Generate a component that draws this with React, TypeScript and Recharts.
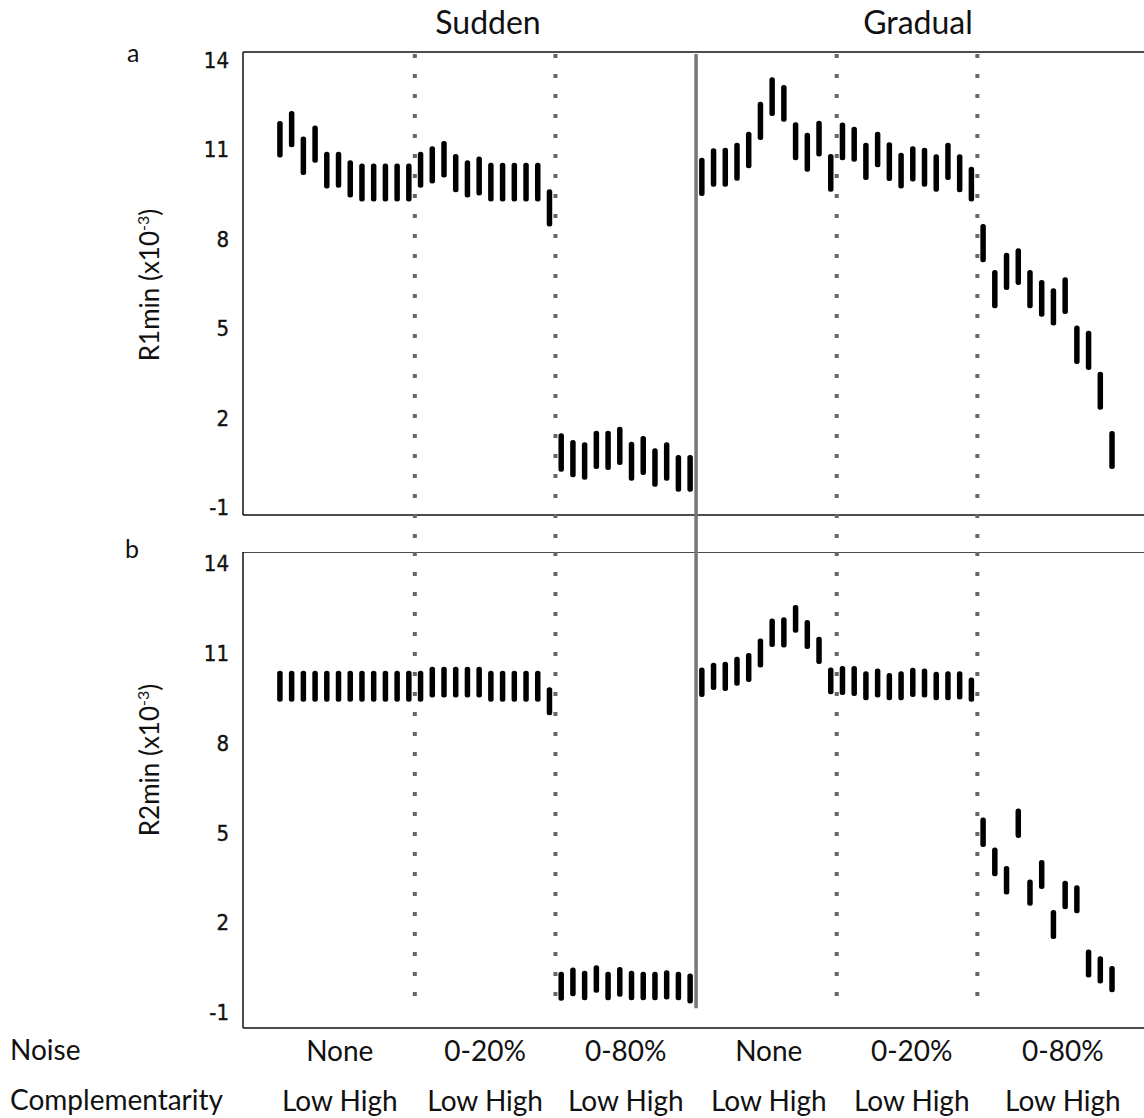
import React from 'react';
import { ComposedChart, Bar, XAxis, YAxis, ReferenceLine } from 'recharts';

// group / axis labels
const regimeTitles = ['Sudden', 'Gradual'];
const noiseLabels = ['None', '0-20%', '0-80%', 'None', '0-20%', '0-80%'];
const complementarityLabel = 'Low High';
const yTicks = [-1, 2, 5, 8, 11, 14];
// x positions (bar index units) of the bottom labels
const labelAt = [5.1, 17.5, 29.5, 41.7, 53.9, 66.8];
// separators between noise groups, and between sudden / gradual
const dottedAt = [11.5, 23.5, 47.5, 59.5];
const regimeSplit = 35.5;

// panel a: R1min range (x10^-3), 72 runs
const r1Low = [
  10.73, 11.07, 10.14, 10.55, 9.69, 9.71, 9.39, 9.25, 9.25, 9.25, 9.25, 9.25,
  9.71, 9.86, 10.06, 9.56, 9.39, 9.45, 9.25, 9.25, 9.25, 9.25, 9.25, 8.41,
  0.18, 0.0, -0.09, 0.27, 0.24, 0.41, -0.12, 0.07, -0.32, -0.12, -0.49, -0.49,
  9.44, 9.75, 9.75, 9.95, 10.37, 11.32, 12.12, 11.93, 10.64, 10.25, 10.76, 9.58,
  10.64, 10.59, 9.97, 10.4, 9.94, 9.69, 9.92, 9.75, 9.58, 9.97, 9.56, 9.25,
  7.21, 5.67, 6.28, 6.45, 5.67, 5.38, 5.09, 5.48, 3.8, 3.6, 2.26, 0.27,
];
const r1High = [
  11.95, 12.29, 11.43, 11.8, 10.92, 10.92, 10.64, 10.53, 10.53, 10.53, 10.53, 10.53,
  10.92, 11.11, 11.28, 10.85, 10.64, 10.76, 10.55, 10.55, 10.55, 10.55, 10.55, 9.66,
  1.47, 1.25, 1.17, 1.56, 1.56, 1.69, 1.19, 1.38, 0.97, 1.17, 0.74, 0.74,
  10.72, 11.04, 11.06, 11.22, 11.59, 12.6, 13.42, 13.16, 11.91, 11.56, 11.96, 10.85,
  11.9, 11.76, 11.22, 11.59, 11.24, 10.89, 11.11, 11.06, 10.84, 11.22, 10.84, 10.42,
  8.5, 6.95, 7.53, 7.68, 6.95, 6.62, 6.34, 6.71, 5.09, 4.91, 3.54, 1.55,
];

// panel b: R2min range (x10^-3)
const r2Low = [
  9.37, 9.37, 9.37, 9.37, 9.37, 9.37, 9.37, 9.37, 9.37, 9.37, 9.37, 9.37,
  9.37, 9.51, 9.51, 9.51, 9.51, 9.51, 9.37, 9.37, 9.37, 9.37, 9.37, 8.92,
  -0.62, -0.47, -0.6, -0.35, -0.6, -0.49, -0.6, -0.6, -0.6, -0.58, -0.6, -0.71,
  9.53, 9.76, 9.73, 9.9, 10.03, 10.51, 11.2, 11.18, 11.67, 11.13, 10.63, 9.62,
  9.59, 9.56, 9.42, 9.51, 9.42, 9.42, 9.53, 9.51, 9.42, 9.42, 9.44, 9.37,
  4.52, 3.54, 2.93, 4.82, 2.55, 3.11, 1.44, 2.44, 2.3, 0.16, -0.04, -0.34,
];
const r2High = [
  10.4, 10.4, 10.4, 10.4, 10.4, 10.4, 10.4, 10.4, 10.4, 10.4, 10.4, 10.4,
  10.4, 10.54, 10.54, 10.54, 10.54, 10.54, 10.4, 10.4, 10.4, 10.4, 10.4, 9.85,
  0.35, 0.49, 0.38, 0.57, 0.35, 0.51, 0.38, 0.35, 0.35, 0.4, 0.35, 0.29,
  10.51, 10.67, 10.7, 10.87, 11.0, 11.48, 12.15, 12.19, 12.6, 12.1, 11.54, 10.51,
  10.56, 10.56, 10.39, 10.48, 10.33, 10.39, 10.5, 10.48, 10.37, 10.39, 10.39, 10.18,
  5.5, 4.5, 3.88, 5.8, 3.43, 4.08, 2.41, 3.39, 3.24, 1.09, 0.87, 0.54,
];

const toRows = (low: number[], high: number[]) =>
  low.map((v, i) => ({ i, range: [v, high[i]] }));

const dataA = toRows(r1Low, r1High);
const dataB = toRows(r2Low, r2High);

const X_DOMAIN: [number, number] = [-3.16, 73.89];
const DOMAIN_A: [number, number] = [-1.27, 14.27];
const DOMAIN_B: [number, number] = [-1.53, 14.37];
const SANS = 'Lato, "Open Sans", sans-serif';
const DOT = { stroke: '#666', strokeWidth: 4, strokeDasharray: '4 16' };
const BORDER = { stroke: '#111', strokeWidth: 1.5 };

const BottomTick = ({ x, y, index }: any) => (
  <g>
    <text x={x} y={y + 31} textAnchor="middle" fontFamily={SANS} fontSize={28} fill="#111">
      {noiseLabels[index]}
    </text>
    <text x={x} y={y + 81} textAnchor="middle" fontFamily={SANS} fontSize={28} fill="#111">
      {complementarityLabel}
    </text>
  </g>
);

const YTick = ({ x, y, payload }: any) => (
  <text
    x={x}
    y={y}
    dy={8}
    textAnchor="end"
    fontFamily='"DejaVu Sans Condensed", "DejaVu Sans", sans-serif'
    fontSize={22}
    fill="#111"
    stroke="#111"
    strokeWidth={0.35}
  >
    {payload.value}
  </text>
);

const yAxisProps = {
  width: 60,
  ticks: yTicks,
  tickLine: false,
  tickSize: 0,
  tickMargin: 14,
  axisLine: BORDER,
  tick: <YTick />,
  interval: 0 as const,
  allowDataOverflow: true,
};

const Separators = ({ top, bottom, splitBottom }: { top: number; bottom: number; splitBottom: number }) => (
  <>
    {dottedAt.map((x) => (
      <ReferenceLine
        key={x}
        segment={[{ x, y: top }, { x, y: bottom }]}
        ifOverflow="visible"
        {...DOT}
      />
    ))}
    <ReferenceLine
      segment={[{ x: regimeSplit, y: top }, { x: regimeSplit, y: splitBottom }]}
      ifOverflow="visible"
      stroke="#777"
      strokeWidth={3.5}
    />
  </>
);

const YTitle = ({ top, name }: { top: number; name: string }) => (
  <div
    style={{
      position: 'absolute',
      left: 149,
      top,
      transform: 'translate(-50%, -50%) rotate(-90deg)',
      whiteSpace: 'nowrap',
      fontFamily: SANS,
      fontSize: 26,
      color: '#111',
    }}
  >
    {name} (x10<sup style={{ fontSize: 16 }}>-3</sup>)
  </div>
);

export default function App() {
  return (
    <div
      style={{
        position: 'absolute',
        left: 0,
        top: 0,
        width: 1144,
        height: 1118,
        overflow: 'hidden',
        background: '#fff',
      }}
    >
      {regimeTitles.map((t, k) => (
        <div
          key={t}
          style={{
            position: 'absolute',
            left: k === 0 ? 488 : 918,
            top: 21,
            transform: 'translate(-50%, -50%)',
            fontFamily: SANS,
            fontSize: 32,
            color: '#111',
          }}
        >
          {t}
        </div>
      ))}
      <div style={{ position: 'absolute', left: 127, top: 37, fontFamily: SANS, fontSize: 25, color: '#111' }}>a</div>
      <div style={{ position: 'absolute', left: 125, top: 533, fontFamily: SANS, fontSize: 25, color: '#111' }}>b</div>
      <YTitle top={285} name="R1min" />
      <YTitle top={760} name="R2min" />
      <div style={{ position: 'absolute', left: 10, top: 1032, fontFamily: SANS, fontSize: 28, color: '#111' }}>Noise</div>
      <div style={{ position: 'absolute', left: 10, top: 1082, fontFamily: SANS, fontSize: 28, color: '#111' }}>
        Complementarity
      </div>

      <div style={{ position: 'absolute', left: 0, top: 0 }}>
        <ComposedChart width={1160} height={552} data={dataA} margin={{ top: 52, right: 14, bottom: 37, left: 183 }}>
          <XAxis dataKey="i" type="number" domain={X_DOMAIN} hide allowDataOverflow />
          <YAxis type="number" domain={DOMAIN_A} {...yAxisProps} />
          <ReferenceLine y={DOMAIN_A[1]} ifOverflow="visible" {...BORDER} />
          <ReferenceLine y={DOMAIN_A[0]} ifOverflow="visible" {...BORDER} />
          <Separators top={14.2} bottom={-2.55} splitBottom={-2.55} />
          <Bar dataKey="range" fill="#000" barSize={5.5} radius={2.5} isAnimationActive={false} />
        </ComposedChart>
      </div>

      <div style={{ position: 'absolute', left: 0, top: 552 }}>
        <ComposedChart width={1160} height={566} data={dataB} margin={{ top: 0, right: 14, bottom: 0, left: 183 }}>
          <XAxis
            dataKey="i"
            type="number"
            domain={X_DOMAIN}
            height={90}
            ticks={labelAt}
            interval={0}
            tickLine={false}
            tickSize={0}
            tick={<BottomTick />}
            axisLine={BORDER}
            allowDataOverflow
          />
          <YAxis type="number" domain={DOMAIN_B} {...yAxisProps} />
          <ReferenceLine y={DOMAIN_B[1]} ifOverflow="visible" {...BORDER} />
          <Separators top={14.37} bottom={-0.93} splitBottom={-0.87} />
          <Bar dataKey="range" fill="#000" barSize={5.5} radius={2.5} isAnimationActive={false} />
        </ComposedChart>
      </div>
    </div>
  );
}
